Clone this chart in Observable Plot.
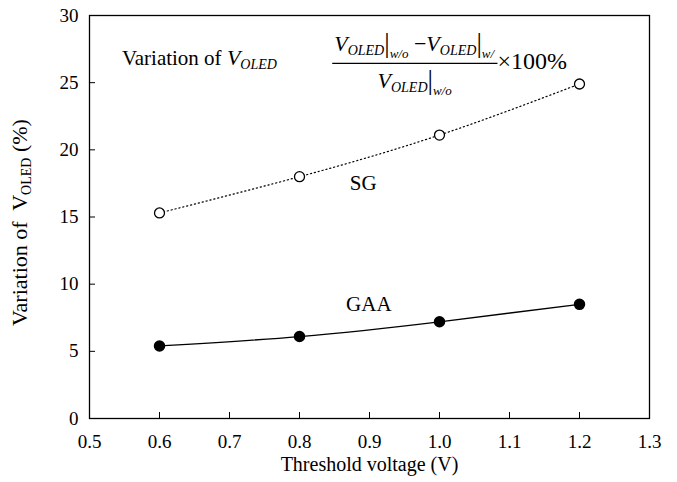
<!DOCTYPE html>
<html><head><meta charset="utf-8">
<script src="https://cdn.jsdelivr.net/npm/d3@7"></script>
<script src="https://cdn.jsdelivr.net/npm/@observablehq/plot@0.6"></script>
<style>body{margin:0;background:#fff}</style>
</head><body><div id="chart"></div>
<script>
const thresholdVoltage = [0.6, 0.8, 1.0, 1.2];
const sgVariation = [15.3, 18.0, 21.1, 24.9];
const gaaVariation = [5.4, 6.1, 7.2, 8.5];
const xTicks = [0.5, 0.6, 0.7, 0.8, 0.9, 1.0, 1.1, 1.2, 1.3];
const yTicks = [0, 5, 10, 15, 20, 25, 30];
const seriesLabels = [{name: "SG", x: 0.891, y: 17.5}, {name: "GAA", x: 0.899, y: 8.5}];
const xLabel = "Threshold voltage (V)";

const sg = thresholdVoltage.map((x, i) => ({x, y: sgVariation[i]}));
const gaa = thresholdVoltage.map((x, i) => ({x, y: gaaVariation[i]}));
const FONT = '"Liberation Serif", "Times New Roman", serif';

const plot = Plot.plot({
  width: 677, height: 482,
  marginLeft: 89, marginRight: 28, marginTop: 15, marginBottom: 64,
  style: {fontFamily: FONT, fontSize: "18px", color: "black", background: "white"},
  x: {domain: [0.5, 1.3], label: null},
  y: {domain: [0, 30], label: null},
  marks: [
    Plot.axisX(xTicks, {tickSize: 0, tickPadding: 16, tickFormat: d => d.toFixed(1), label: null, fontSize: 19}),
    Plot.axisX(xTicks.slice(1, -1), {tickSize: -6, tickFormat: () => "", label: null, strokeWidth: 1}),
    Plot.axisY(yTicks, {tickSize: 0, tickPadding: 11, label: null, fontSize: 19}),
    Plot.axisY(yTicks.slice(1, -1), {tickSize: -6, tickFormat: () => "", label: null, strokeWidth: 1}),
    Plot.frame({stroke: "black", strokeWidth: 1.3}),
    Plot.line(sg, {x: "x", y: "y", curve: "natural", stroke: "black", strokeWidth: 1.2, strokeDasharray: "1.2,2.8"}),
    Plot.line(gaa, {x: "x", y: "y", curve: "natural", stroke: "black", strokeWidth: 1.3}),
    Plot.dot(sg, {x: "x", y: "y", r: 5, fill: "white", stroke: "black", strokeWidth: 1.3}),
    Plot.dot(gaa, {x: "x", y: "y", r: 5, fill: "black", stroke: "black"}),
    Plot.text(seriesLabels, {x: "x", y: "y", text: "name", fontSize: 21, fill: "black"}),
    Plot.text([xLabel], {frameAnchor: "bottom", dy: 52, fontSize: 20, fill: "black"})
  ]
});
document.getElementById("chart").appendChild(plot);

const svg = d3.select(plot);
const xs = plot.scale("x"), ys = plot.scale("y");

// y-axis label with subscript
const yl = svg.append("text")
  .attr("transform", `translate(27,${(ys.apply(0) + ys.apply(30)) / 2 + 6}) rotate(-90)`)
  .attr("text-anchor", "middle").style("font-family", FONT).attr("font-size", 22).attr("fill", "black");
yl.append("tspan").text("Variation of\u00a0 V");
yl.append("tspan").attr("font-size", 14).attr("dy", 4).text("OLED");
yl.append("tspan").attr("dy", -4).text(" (%)");

function rich(parent, x, y, parts) {
  const t = parent.append("text").attr("x", x).attr("y", y).attr("text-anchor", "start")
    .style("font-family", FONT).attr("fill", "black").attr("font-size", 21);
  for (const p of parts) {
    const s = t.append("tspan").text(p.t);
    if (p.size) s.attr("font-size", p.size);
    if (p.it) s.attr("font-style", "italic");
    if (p.dy) s.attr("dy", p.dy);
  }
  return t;
}
const vOled = (sub) => [
  {t: "V", it: true, size: 22},
  {t: "OLED", it: true, size: 14, dy: 4},
  {t: "|", size: 27, dy: -3},
  {t: sub, it: true, size: 13, dy: 6}
];
const g = svg.append("g");
// left annotation
rich(g, xs.apply(0.547), ys.apply(26.3), [
  {t: "Variation of "}, {t: "V", it: true, size: 22}, {t: "OLED", it: true, size: 14, dy: 4}
]);
// fraction
const cx = (xs.apply(0.844) + xs.apply(1.087)) / 2;
const barY = ys.apply(26.4);
const num = rich(g, 0, barY - 12, [...vOled("w/o"), {t: " \u2212", size: 22, dy: -7}, ...vOled("w/")]);
const nw = num.node().getBBox().width;
num.attr("x", cx - nw / 2);
const den = rich(g, 0, barY + 25, vOled("w/o"));
const dw = den.node().getBBox().width;
den.attr("x", cx - dw / 2);
g.append("line").attr("x1", cx - nw / 2 - 2).attr("x2", cx + nw / 2 + 2)
  .attr("y1", barY).attr("y2", barY).attr("stroke", "black").attr("stroke-width", 1.2);
rich(g, cx + nw / 2 + 2, barY + 6, [{t: "\u00d7100%", size: 24}]);
</script>
</body></html>
